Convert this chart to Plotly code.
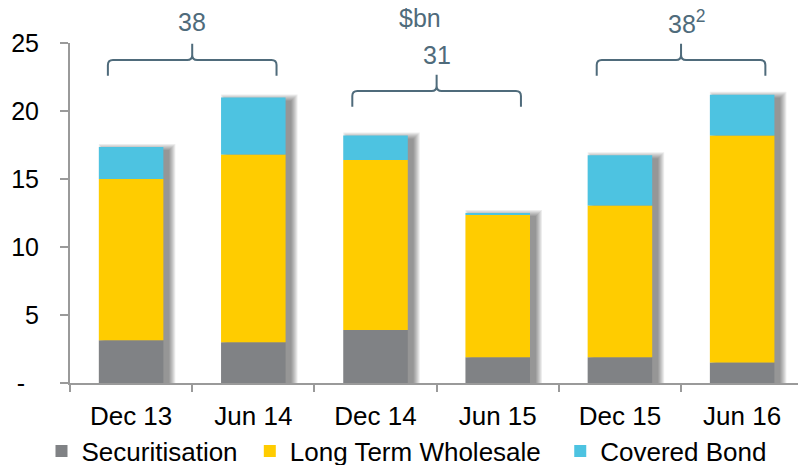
import numpy as np
import plotly.graph_objects as go

# Funding composition by half-year ($bn)
periods = ["Dec 13", "Jun 14", "Dec 14", "Jun 15", "Dec 15", "Jun 16"]
securitisation = [3.15, 3.0, 3.9, 1.9, 1.9, 1.5]
long_term_wholesale = [11.85, 13.8, 12.5, 10.45, 11.15, 16.7]
covered_bond = [2.35, 4.2, 1.8, 0.15, 3.7, 3.0]

# Annual totals shown above each pair of half-years
pair_labels = ["38", "31", "38<sup>2</sup>"]
y_tick_vals = [0, 5, 10, 15, 20, 25]
y_tick_text = ["-\u00a0\u00a0", "5", "10", "15", "20", "25"]

series = [
    ("Securitisation\u00a0", securitisation, "#808285"),
    ("Long Term Wholesale\u00a0\u00a0", long_term_wholesale, "#FFCC00"),
    ("Covered Bond", covered_bond, "#4DC3E1"),
]

YMAX = 25
XMIN, XMAX = -0.5, 5.457
PX_X = (XMAX - XMIN) / 728.0   # one pixel in category units
PX_Y = YMAX / 340.0            # one pixel in value units
BAR_W = 0.528
BRACE = "#4F6B7B"
FONT = "Arial, Liberation Sans, sans-serif"
GRID = "#9A9A9A"

x_idx = np.arange(len(periods))
totals = np.sum([securitisation, long_term_wholesale, covered_bond], axis=0)

fig = go.Figure()

# soft drop shadow to the lower right of each column
for k in range(7):
    fig.add_trace(go.Bar(
        x=x_idx, y=totals - (3 - k) * PX_Y, base=0,
        width=BAR_W + 2 * k * PX_X,
        offset=-BAR_W / 2 + 6 * PX_X - k * PX_X,
        marker=dict(color="rgba(0,0,0,0.07)", line=dict(width=0)),
        showlegend=False, hoverinfo="skip",
    ))

# stacked columns
base = np.zeros(len(periods))
for name, vals, color in series:
    vals = np.array(vals)
    fig.add_trace(go.Bar(
        x=x_idx, y=vals, base=base.copy(), name=name, width=BAR_W,
        marker=dict(color=color, line=dict(width=0)),
    ))
    base = base + vals


def dom_x(v):
    return (v - XMIN) / (XMAX - XMIN)


def dom_y(v):
    return v / YMAX


def brace_path(xc, y_h, hw=0.69, drop=1.15, rise=1.2):
    rx, ry = 5 * PX_X, 5 * PX_Y
    xl, xr = xc - hw, xc + hw
    pts = lambda x, y: f"{dom_x(x):.5f},{dom_y(y):.5f}"
    return (
        f"M{pts(xl, y_h - drop)} L{pts(xl, y_h - ry)} Q{pts(xl, y_h)} {pts(xl + rx, y_h)} "
        f"L{pts(xc - rx, y_h)} Q{pts(xc, y_h)} {pts(xc, y_h + ry)} L{pts(xc, y_h + rise)} "
        f"M{pts(xc, y_h + ry)} Q{pts(xc, y_h)} {pts(xc + rx, y_h)} "
        f"L{pts(xr - rx, y_h)} Q{pts(xr, y_h)} {pts(xr, y_h - ry)} L{pts(xr, y_h - drop)}"
    )


brace_levels = [23.75, 21.47, 23.75]
for j, lvl in enumerate(brace_levels):
    xc = 2 * j + 0.5
    fig.add_shape(type="path", xref="x domain", yref="y domain",
                  path=brace_path(xc, lvl), line=dict(color=BRACE, width=2))

label_pos = [(0.5, 26.54), (2.5, 24.12), (4.55, 26.54)]
for text, (lx, ly) in zip(pair_labels, label_pos):
    fig.add_annotation(x=lx, y=dom_y(ly), xref="x", yref="paper", text=text, showarrow=False,
                       font=dict(family=FONT, size=25, color=BRACE),
                       xanchor="center", yanchor="middle")

fig.add_annotation(x=2.36, y=dom_y(26.84), xref="x", yref="paper", text="$bn", showarrow=False,
                   font=dict(family=FONT, size=25, color=BRACE),
                   xanchor="center", yanchor="middle")

# ticks sit on the boundaries between periods
fig.add_trace(go.Scatter(x=[None], y=[None], xaxis="x2", showlegend=False, hoverinfo="skip"))

fig.update_layout(
    width=798, height=465,
    margin=dict(l=70, r=0, t=43, b=82, autoexpand=False),
    paper_bgcolor="white", plot_bgcolor="white",
    barmode="overlay",
    font=dict(family=FONT, color="black"),
    legend=dict(orientation="h", xref="container", x=0.052, xanchor="left",
                yref="container", y=0.03, yanchor="middle",
                font=dict(family=FONT, size=26, color="black"),
                bgcolor="rgba(0,0,0,0)", itemclick=False),
    xaxis=dict(
        range=[XMIN, XMAX], tickvals=list(x_idx), ticktext=periods,
        showline=True, linecolor=GRID, linewidth=2,
        ticks="", showgrid=False, zeroline=False,
        tickfont=dict(family=FONT, size=26, color="black"),
        ticklabelstandoff=9,
    ),
    xaxis2=dict(
        overlaying="x", side="bottom", range=[XMIN, XMAX],
        tickvals=list(x_idx - 0.5), ticktext=[""] * len(periods),
        ticks="outside", ticklen=8, tickcolor=GRID, tickwidth=2,
        showline=False, showgrid=False, zeroline=False,
    ),
    yaxis=dict(
        range=[0, YMAX], tickvals=y_tick_vals, ticktext=y_tick_text,
        showline=True, linecolor=GRID, linewidth=2,
        ticks="outside", ticklen=8, tickcolor=GRID, tickwidth=2,
        showgrid=False, zeroline=False,
        tickfont=dict(family=FONT, size=25, color="black"),
        ticklabelstandoff=16,
    ),
)

fig.write_html("out.html")
